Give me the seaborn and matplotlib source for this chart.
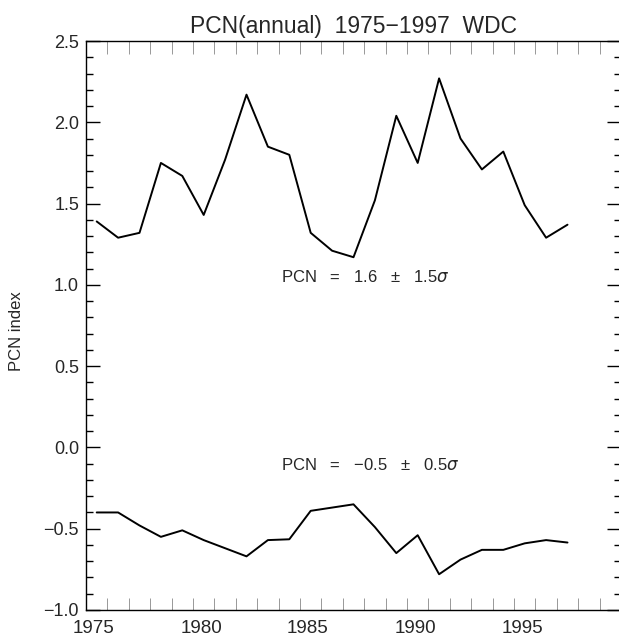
import numpy as np
import pandas as pd
import seaborn as sns
import matplotlib
matplotlib.use("Agg")
import matplotlib.pyplot as plt
from matplotlib.ticker import MultipleLocator
from matplotlib.transforms import ScaledTranslation

# Annual mean PCN index, plotted at mid-year
years = np.arange(1975, 1998) + 0.5
pcn_high = [1.39, 1.29, 1.32, 1.75, 1.67, 1.43, 1.77, 2.17, 1.85, 1.80,
            1.32, 1.21, 1.17, 1.52, 2.04, 1.75, 2.27, 1.90, 1.71, 1.82,
            1.49, 1.29, 1.37]
pcn_low = [-0.40, -0.40, -0.48, -0.55, -0.51, -0.57, -0.62, -0.67, -0.57, -0.565,
           -0.39, -0.37, -0.35, -0.49, -0.65, -0.54, -0.78, -0.69, -0.63, -0.63,
           -0.59, -0.57, -0.585]
year_ticks = [1975, 1980, 1985, 1990, 1995]
y_ticks = [-1.0, -0.5, 0.0, 0.5, 1.0, 1.5, 2.0, 2.5]

df = pd.DataFrame({"year": np.concatenate([years, years]),
                   "pcn": pcn_high + pcn_low,
                   "group": ["high"] * len(years) + ["low"] * len(years)})

sns.set_theme(style="ticks")
plt.rcParams["font.family"] = ["Liberation Sans", "DejaVu Sans"]
plt.rcParams["mathtext.fontset"] = "dejavusans"

fig = plt.figure(figsize=(6.19, 6.39), dpi=100)
ax = fig.add_axes([86 / 619, 29 / 639, 535 / 619, 569 / 639])

sns.lineplot(data=df, x="year", y="pcn", units="group", estimator=None,
             color="black", linewidth=1.4, ax=ax, legend=False)

ax.set_xlim(1975, 2000)
ax.set_ylim(-1.0, 2.5)
ax.set_xticks(year_ticks)
ax.set_xticklabels([str(y) for y in year_ticks])
ax.xaxis.set_minor_locator(MultipleLocator(1))
ax.set_yticks(y_ticks)
ax.set_yticklabels([f"{v:.1f}".replace("-", "\u2212") for v in y_ticks])
ax.yaxis.set_minor_locator(MultipleLocator(0.1))

ax.tick_params(axis="y", which="major", direction="in", length=10, width=1.0,
               left=True, right=True, labelsize=13, color="black", pad=5)
ax.tick_params(axis="y", which="minor", direction="in", length=5, width=1.0,
               left=True, right=True, color="black")
ax.tick_params(axis="x", which="both", direction="in", length=9, width=0.6,
               bottom=True, top=True, color="#888888", labelsize=13.5, pad=7)

# year labels sit slightly right of their ticks
offset = ScaledTranslation(8 / 100, 0, fig.dpi_scale_trans)
for lbl in ax.get_xticklabels():
    lbl.set_transform(lbl.get_transform() + offset)

for s in ax.spines.values():
    s.set_linewidth(1.0)
    s.set_color("black")

ax.set_xlabel("")
ax.set_ylabel("PCN index", fontsize=12)
ax.yaxis.set_label_coords(-0.115, 0.49)
ax.set_title("PCN(annual)  1975\u22121997  WDC", fontsize=16.5, pad=6)

ax.text(1984.1, 1.05, "PCN   =   1.6   \u00b1   1.5$\\sigma$", fontsize=12,
        ha="left", va="center")
ax.text(1984.1, -0.11, "PCN   =   \u22120.5   \u00b1   0.5$\\sigma$", fontsize=12,
        ha="left", va="center")

fig.savefig("out.png", dpi=100)
